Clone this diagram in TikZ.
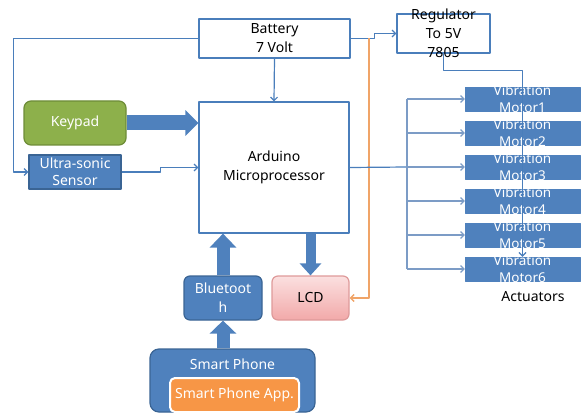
\documentclass[tikz,border=0pt]{standalone}
\usepackage{fontspec}
\setmainfont{Noto Sans}
\usetikzlibrary{arrows.meta,calc}
\definecolor{boxblue}{HTML}{4F81BD}
\definecolor{edgeblue}{HTML}{3A6494}
\definecolor{lineblue}{HTML}{4A7EBB}
\definecolor{busblue}{HTML}{7C9CC6}
\definecolor{padgreen}{HTML}{8DB04B}
\definecolor{padedge}{HTML}{6E8C38}
\definecolor{appor}{HTML}{F79646}
\definecolor{wireor}{HTML}{F0A468}
\definecolor{lcdtop}{HTML}{FBE0E0}
\definecolor{lcdbot}{HTML}{F2A9A9}
\definecolor{lcdedge}{HTML}{DE9A9A}
\begin{document}
\begin{tikzpicture}[x=1pt, y=-1pt, line join=round, >={Straight Barb[length=3.5pt,width=7pt]},
  font=\fontsize{14}{19}\selectfont,
  plainbox/.style={draw=lineblue, line width=1.2pt, fill=white, align=center, inner sep=0pt},
  bluebox/.style={draw=edgeblue, line width=1.2pt, fill=boxblue, text=white, align=center, inner sep=0pt},
  motorbox/.style={draw=boxblue, fill=boxblue, inner sep=0pt, minimum width=115pt, minimum height=24pt},
  mtxt/.style={text=white, align=center, inner sep=0pt, font=\fontsize{13.5}{17}\selectfont},
  wire/.style={draw=lineblue, line width=1.2pt},
  fat/.style={draw=boxblue}]

\useasboundingbox (0,0) rectangle (582,420);

% blocks
\node[plainbox, minimum width=151pt, minimum height=39pt] (bat) at (274.5,38.5) {Battery\\7 Volt};
\node[plainbox, minimum width=93pt, minimum height=39pt,
  label={[align=center, inner sep=0pt]center:{Regulator\\To 5V\\7805}}] (reg) at (443.5,33.5) {};
\node[plainbox, minimum width=150pt, minimum height=131pt] (ard) at (274,167.5) {Arduino\\Microprocessor};
\node[draw=padedge, line width=1.2pt, fill=padgreen, text=white, rounded corners=7pt,
  minimum width=102pt, minimum height=44pt, inner sep=0pt] (kp) at (75,123) {Keypad};
\node[bluebox, minimum width=92pt, minimum height=34pt, font=\fontsize{14}{17}\selectfont] (sen) at (75,172) {Ultra-sonic\\Sensor};
\node[bluebox, rounded corners=6pt, minimum width=78pt, minimum height=44pt] (bt) at (223,298) {Bluetoot\\h};
\node[draw=lcdedge, line width=1.2pt, top color=lcdtop, bottom color=lcdbot, rounded corners=6pt,
  minimum width=77pt, minimum height=44pt, inner sep=0pt] (lcd) at (310.5,298) {LCD};
\node[bluebox, rounded corners=9pt, minimum width=165pt, minimum height=63pt] (phone) at (232.5,380.5) {};
\node[text=white, inner sep=0pt] (phtxt) at (232.5,364) {Smart Phone};
\node[draw=white, line width=2pt, fill=appor, text=white, rounded corners=5pt,
  minimum width=129pt, minimum height=34pt, inner sep=0pt] (app) at (234.5,395) {Smart Phone App.};

\foreach \i/\y in {1/99,2/133,3/167,4/201,5/235,6/269}
  \node[motorbox, label={[mtxt]center:{Vibration\\Motor\i}}] (m\i) at (522.5,\y) {};
\node[inner sep=0pt] (act) at (533,297) {Actuators};

% thin connectors
\draw[wire, ->] (bat.west) -- ++(-185,0) |- (sen.west);
\draw[wire, ->] (sen.east) -- ++(39,0) |- (ard.west);
\draw[wire, ->] (bat.south) -- (ard.north);
\draw[wire, ->] (bat.east) -- ++(24,0) |- (reg.west);
\coordinate (split) at (369,38.5);
\draw[draw=wireor, line width=1.4pt, ->] (split) |- (lcd.east);
\draw[wire, ->] (reg.south) -- ++(0,17) -| (m6.north);
\coordinate (bus) at (407,167);
\draw[wire] (ard.east) -- (bus);
\draw[draw=busblue, line width=1.1pt] (bus|-m1.west) -- (bus|-m6.west);
\foreach \i in {1,...,6}
  \draw[draw=busblue, line width=1.1pt, ->] (bus|-m\i.west) -- (m\i.west);

% thick arrows
\draw[fat, line width=15pt, -{Triangle[width=25pt,length=13pt]}] (kp.east) -- (ard.west|-kp.east);
\draw[fat, line width=10pt, -{Triangle[width=21pt,length=12pt]}] (lcd.north|-ard.south) -- (lcd.north);
\draw[fat, line width=13pt, -{Triangle[width=26pt,length=14pt]}] (bt.north) -- (bt.north|-ard.south);
\draw[fat, line width=13pt, -{Triangle[width=26pt,length=13pt]}] (bt.south|-phone.north) -- (bt.south);
\end{tikzpicture}
\end{document}
